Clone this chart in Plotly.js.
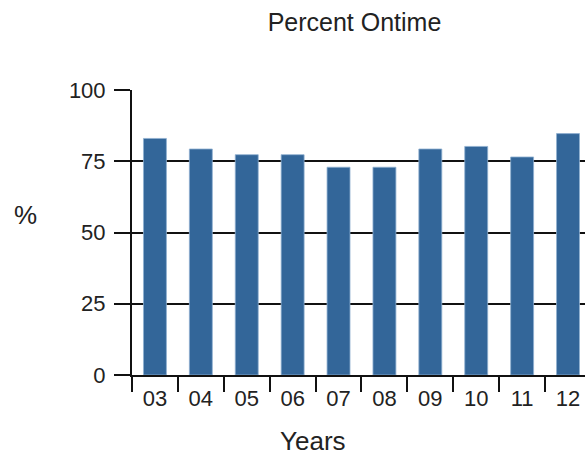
<!DOCTYPE html>
<html>
<head>
<meta charset="utf-8">
<script src="https://cdn.plot.ly/plotly-3.0.1.min.js"></script>
<style>html,body{margin:0;padding:0;overflow:hidden;background:#fff}</style>
</head>
<body>
<div id="chart" style="width:585px;height:461px"></div>
<script>
const years = ["03","04","05","06","07","08","09","10","11","12"];
const ontime = [83.0, 79.3, 77.3, 77.3, 72.9, 72.9, 79.3, 80.2, 76.5, 84.7];
const yTicks = [0, 25, 50, 75, 100];

const font = {family: "Liberation Sans, Arial, sans-serif", color: "#222"};

Plotly.newPlot("chart", [{
  type: "bar",
  x: years,
  y: ontime,
  width: 0.5,
  marker: {color: "#336699", line: {color: "#8fb0d0", width: 0.8}},
  hoverinfo: "none"
}], {
  width: 585, height: 461,
  margin: {l: 132, r: 0, t: 90, b: 86},
  paper_bgcolor: "#fff", plot_bgcolor: "#fff",
  font: Object.assign({size: 22}, font),
  showlegend: false,
  title: {text: "Percent Ontime", font: Object.assign({size: 25}, font),
          xref: "container", x: 0.606, xanchor: "center", yref: "container", y: 0.952, yanchor: "middle"},
  xaxis: {
    type: "category",
    range: [-0.5, 9.37],
    showline: true, linecolor: "#111", linewidth: 2,
    ticks: "outside", tickson: "boundaries", ticklen: 15, tickwidth: 2, tickcolor: "#111",
    showgrid: false, zeroline: false,
    ticklabelstandoff: 3,
    tickfont: Object.assign({size: 22}, font)
  },
  yaxis: {
    range: [0, 100],
    tickvals: yTicks,
    ticktext: yTicks.map(String),
    showline: true, linecolor: "#111", linewidth: 2,
    ticks: "outside", ticklen: 16, tickwidth: 2, tickcolor: "#111",
    showgrid: true, gridcolor: "#111", gridwidth: 2,
    zeroline: false,
    ticklabelstandoff: 4,
    tickfont: Object.assign({size: 22}, font)
  },
  annotations: [
    {text: "Years", xref: "paper", yref: "paper", x: (313-132)/453, y: -(441-375)/285,
     xanchor: "center", yanchor: "middle", showarrow: false, font: Object.assign({size: 26}, font)},
    {text: "%", xref: "paper", yref: "paper", x: (25-132)/453, y: (375-215)/285,
     xanchor: "center", yanchor: "middle", showarrow: false, font: Object.assign({size: 26}, font)}
  ]
}, {displayModeBar: false, staticPlot: true});
</script>
</body>
</html>
